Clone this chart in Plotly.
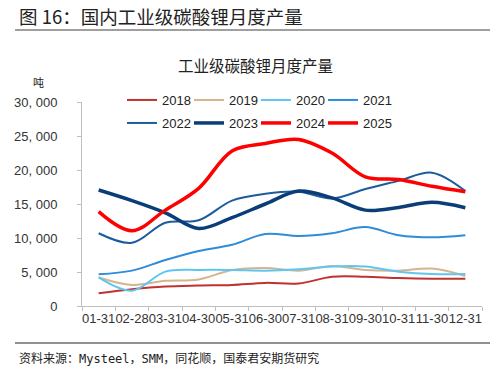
import plotly.graph_objects as go

months = ["01-31", "02-28", "03-31", "04-30", "05-31", "06-30",
          "07-31", "08-31", "09-30", "10-31", "11-30", "12-31"]

y2018 = [1860, 2450, 2850, 3000, 3100, 3400, 3300, 4300, 4300, 4100, 4000, 4000]
y2019 = [4200, 3100, 3700, 3900, 5300, 5600, 5200, 5900, 5300, 5200, 5500, 4400]
y2020 = [4200, 2250, 5050, 5300, 5300, 5200, 5400, 5800, 5800, 5050, 4700, 4700]
y2021 = [4660, 5200, 6760, 8100, 9000, 10600, 10300, 10700, 11600, 10400, 10100, 10400]
y2022 = [10700, 9300, 12250, 12600, 15500, 16500, 16800, 15800, 17200, 18400, 19600, 16900]
y2023 = [17060, 15500, 13700, 11400, 13000, 15000, 16900, 15900, 14100, 14500, 15250, 14450]
y2024 = [13870, 11070, 14100, 17300, 22800, 23900, 24500, 22500, 19000, 18600, 17600, 16800]
y2025 = []

yticks = [0, 5000, 10000, 15000, 20000, 25000, 30000]
yticktext = ["0", "5, 000", "10, 000", "15, 000", "20, 000", "25, 000", "30, 000"]

series = [
    ("2018", y2018, "#c0322f", 2, "legend"),
    ("2019", y2019, "#d6b490", 2, "legend"),
    ("2020", y2020, "#5ec6f0", 2, "legend"),
    ("2021", y2021, "#2f8cd8", 2, "legend"),
    ("2022", y2022, "#1d5c9c", 2, "legend2"),
    ("2023", y2023, "#0b3d78", 3.5, "legend2"),
    ("2024", y2024, "#ff0000", 3.5, "legend2"),
    ("2025", y2025, "#ff0000", 3.5, "legend2"),
]

W, H = 496, 384
PL, PR, PT, PB = 82, 482, 102, 306  # plot area in screen px
L, R, T, B = PL, W - PR, PT, H - PB
PW, PH = W - L - R, H - T - B


def px(x):
    return (x - L) / PW


def py(y):
    return (H - B - y) / PH


fig = go.Figure()
for name, vals, color, width, lg in series:
    fig.add_trace(go.Scatter(
        x=months[:len(vals)] if vals else [None], y=vals if vals else [None],
        name=name, mode="lines",
        line=dict(color=color, width=width, shape="spline", smoothing=1),
        legend=lg,
        legendwidth=40 if name in ("2021", "2025") else None,
    ))

leg_common = dict(orientation="h", xanchor="left", yanchor="middle",
                  xref="container", yref="container",
                  entrywidth=22, entrywidthmode="pixels",
                  font=dict(family="Liberation Sans, Arial", size=13, color="#222"),
                  bgcolor="rgba(0,0,0,0)", borderwidth=0, tracegroupgap=0)

fig.update_layout(
    width=W, height=H,
    margin=dict(l=L, r=R, t=T, b=B, pad=0, autoexpand=False),
    paper_bgcolor="white", plot_bgcolor="white",
    showlegend=True,
    legend=dict(x=122 / W, y=(H - 100) / H, **leg_common),
    legend2=dict(x=122 / W, y=(H - 123) / H, **leg_common),
    xaxis=dict(
        type="category", categoryorder="array", categoryarray=months,
        tickson="boundaries", ticks="outside", ticklen=4, tickcolor="#bfbfbf",
        showline=True, linecolor="#bfbfbf", linewidth=1,
        showgrid=False, zeroline=False, tickangle=0,
        tickfont=dict(family="Liberation Sans, Arial", size=13, color="#333"),
        range=[-0.5, 11.5],
    ),
    yaxis=dict(
        range=[0, 30000], tickvals=yticks, ticktext=yticktext,
        ticks="outside", ticklen=4, tickcolor="#bfbfbf",
        showline=True, linecolor="#bfbfbf", linewidth=1,
        showgrid=False, zeroline=False,
        ticklabelstandoff=17,
        tickfont=dict(family="Liberation Sans, Arial", size=13, color="#333"),
    ),
    font=dict(family="Noto Sans CJK SC"),
)

fig.add_annotation(text="图 16：国内工业级碳酸锂月度产量", xref="paper", yref="paper",
                   x=px(18), y=py(16), xanchor="left", yanchor="middle", showarrow=False,
                   borderpad=0,
                   font=dict(family="Noto Sans CJK SC", size=18.5, color="#222"))
fig.add_shape(type="line", xref="paper", yref="paper", x0=px(15), x1=px(490),
              y0=py(30), y1=py(30), line=dict(color="#7f7f7f", width=1.5))
fig.add_annotation(text="工业级碳酸锂月度产量", xref="paper", yref="paper",
                   x=px(255), y=py(65), xanchor="center", yanchor="middle", showarrow=False,
                   font=dict(family="Noto Sans CJK SC", size=15.5, color="#222"))
fig.add_annotation(text="吨", xref="paper", yref="paper",
                   x=px(38), y=py(82), xanchor="center", yanchor="middle", showarrow=False,
                   font=dict(family="Noto Sans CJK SC", size=11, color="#222"))
fig.add_shape(type="line", xref="paper", yref="paper", x0=px(15), x1=px(490),
              y0=py(343), y1=py(343), line=dict(color="#222", width=1))
fig.add_annotation(text="资料来源：Mysteel，SMM，同花顺，国泰君安期货研究", xref="paper", yref="paper",
                   x=px(17), y=py(358), xanchor="left", yanchor="middle", showarrow=False,
                   font=dict(family="DejaVu Sans Mono, Noto Sans CJK SC", size=12, color="#222"))

fig.write_html("out.html", config={"displayModeBar": False},
               post_script="document.body.style.margin='0';")
